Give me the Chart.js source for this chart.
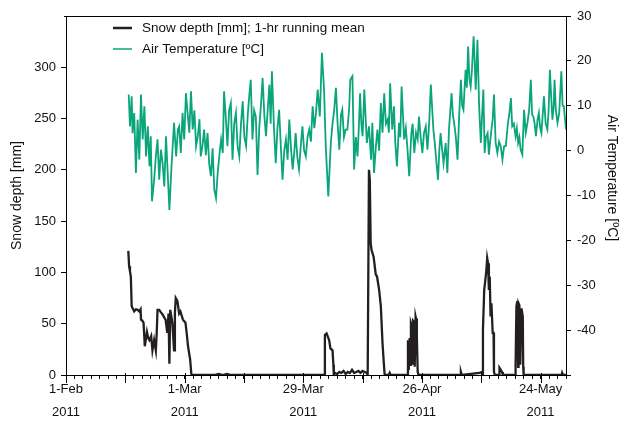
<!DOCTYPE html>
<html>
<head>
<meta charset="utf-8">
<script src="https://cdn.jsdelivr.net/npm/chart.js@4.4.1/dist/chart.umd.min.js"></script>
<style>
  html, body { margin: 0; padding: 0; background: #fff; }
</style>
</head>
<body>
<canvas id="snowChart" width="624" height="421"></canvas>
<script>
// x values are days after 1 Feb 2011
const dateLabels = { 0: ['1-Feb', '2011'], 28: ['1-Mar', '2011'], 56: ['29-Mar', '2011'], 84: ['26-Apr', '2011'], 112: ['24-May', '2011'] };
const majorTickDays = [0, 14, 28, 42, 56, 70, 84, 98, 112];

// Snow depth [mm], 1-hr running mean
const snowDays = [
  14.7, 14.9, 15.1, 15.3, 15.5, 16.1, 16.5, 16.9, 17.3, 17.6, 17.7, 18.0, 18.3, 18.6, 19.1, 19.4, 19.7, 20.1, 20.4, 20.8,
  21.2, 21.4, 21.6, 22.0, 22.4, 22.8, 23.2, 23.5, 23.9, 24.2, 24.4, 24.6, 25.1, 25.5, 25.7, 25.9, 26.3, 26.7, 27.0, 27.6,
  28.2, 28.5, 28.8, 29.3, 29.6, 30, 35, 36, 37, 38, 39, 45, 50, 55, 60, 61.0,
  61.1, 61.5, 62.1, 62.4, 62.9, 63.1, 63.2, 63.5, 64, 64.5, 65, 65.5, 66, 66.5, 67, 67.5, 68, 68.5, 69, 69.5, 70, 70.5, 71, 71.2,
  71.5, 71.7, 71.9, 72.1, 72.6, 73.1, 73.4, 73.9, 74.3, 74.7, 74.9, 75.2, 76.2, 76.4, 76.6,
  80.5, 80.7, 80.8, 80.9, 81.1, 81.3, 81.4, 81.6, 81.8, 81.9, 82.1, 82.3, 82.5, 82.6, 82.8, 83.0, 83.2,
  93.0, 93.2, 93.4, 97.6, 98.1, 98.3, 98.4, 98.7, 98.9, 99.2, 99.4, 99.6, 99.8, 100.0, 100.2, 100.4, 100.7, 100.9, 101.0, 101.2,
  102.2, 102.3, 102.6, 102.9, 103.1, 106.0, 106.1, 106.3, 106.5, 106.7, 106.8, 107.0, 107.2, 107.5, 107.8, 107.9, 108.0,
  117.0, 117.1, 117.3, 118
];
const snowDepth = [
  121, 106, 101, 96, 67, 62, 64, 63.5, 62, 64, 54, 53, 51, 28, 42, 36, 34, 38, 24, 34,
  24, 40, 63.5, 63.5, 61, 59, 56, 54, 41, 60, 11, 63.5, 51, 24, 60, 75, 72, 60, 62, 54,
  51, 40, 28, 15, 0, 0, 0, 1, 0, 1, 0, 0, 0, 0, 0, 0,
  39, 40.5, 34, 26, 24, 10, 0, 2, 1, 3, 2, 4, 1, 3, 2, 5, 2, 3, 4, 2, 4, 3, 2, 0,
  200, 190, 129, 122, 115, 98, 96, 83, 67, 31, 18, 0, 0, 2, 0,
  0, 34, 28, 5, 36, 10, 50, 47, 10, 53, 52, 8, 57, 55, 37, 3, 0,
  0, 3, 0, 2, 3, 0, 44, 83, 90, 102, 114, 109, 83, 96, 57, 70, 41, 41, 3, 0,
  0, 7, 5, 3, 0, 0, 8, 67, 72, 8, 70, 68, 10, 65, 57, 8, 0,
  0, 2, 0, 0
];

// Air temperature [°C]
const tempDays = [
  14.8, 15.1, 15.5, 15.7, 16.1, 16.5, 16.9, 17.3, 17.7, 18.1, 18.5, 18.9, 19.3, 19.7, 20.0, 20.3, 20.8, 21.2, 21.6, 22.0,
  22.4, 22.8, 23.2, 23.6, 24.0, 24.4, 24.9, 25.5, 26.0, 26.4, 26.7, 27.1, 27.5, 27.9, 28.3, 28.7, 29.1, 29.5, 29.9, 30.3,
  30.7, 31.1, 31.5, 31.8, 32.2, 32.6, 33.0, 33.4, 33.8, 34.2, 34.6, 35.0, 35.4, 35.8, 36.2, 36.6, 37.0, 37.3, 37.7, 38.1,
  38.5, 38.9, 39.3, 39.7, 40.1, 40.5, 40.9, 41.3, 41.7, 42.1, 42.5, 42.9, 43.2, 43.6, 44.0, 44.4, 44.8, 45.2, 45.6, 46.0,
  46.4, 46.8, 47.2, 47.6, 48.0, 48.3, 48.6, 49.1, 49.5, 49.9, 50.3, 50.7, 51.1, 51.5, 51.9, 52.3, 52.7, 53.1, 53.5, 53.9,
  54.2, 54.6, 55.0, 55.4, 55.8, 56.2, 56.6, 57.0, 57.4, 57.8, 58.2, 58.6, 59.0, 59.4, 59.9, 60.4, 60.9, 61.3, 61.9, 62.5,
  62.9, 63.3, 63.7, 64.1, 64.5, 64.9, 65.2, 65.6, 66.0, 66.4, 66.8, 67.1, 67.6, 68.0, 68.4, 68.8, 69.1, 69.4, 69.7, 70.0,
  70.4, 71.0, 71.5, 72.0, 72.3, 72.7, 73.1, 73.5, 73.9, 74.3, 74.7, 75.1, 75.5, 75.9, 76.2, 76.5, 77.0, 77.4, 77.7, 78.1,
  78.6, 78.9, 79.2, 79.8, 80.2, 80.6, 81.0, 81.5, 81.8, 82.2, 82.6, 83.0, 83.3, 83.7, 84.1, 84.5, 84.9, 85.3, 85.7, 86.1,
  86.7, 87.0, 87.3, 87.8, 88.1, 88.4, 88.8, 89.1, 89.6, 90.0, 90.4, 91.0, 91.3, 91.6, 92.0, 92.4, 92.8, 93.2, 93.5, 93.8,
  94.3, 94.6, 94.9, 95.2, 95.5, 95.8, 96.2, 96.7, 97.1, 97.5, 97.9, 98.2, 98.5, 98.8, 99.1, 99.5, 99.8, 100.1, 100.4, 100.7,
  101.0, 101.4, 101.8, 102.2, 102.6, 103.0, 103.4, 103.8, 104.3, 104.6, 105.0, 105.3, 105.7, 106.1, 106.4, 106.7, 107.0, 107.3, 107.7, 108.1,
  108.5, 108.9, 109.3, 109.7, 110.0, 110.3, 110.6, 110.9, 111.3, 111.6, 111.9, 112.2, 112.5, 112.8, 113.2, 113.6, 113.9, 114.2, 114.5, 114.8,
  115.1, 115.3, 115.6, 116.0, 116.4, 116.9, 117.2, 117.5, 118.0
];
const tempValues = [
  12.5, 5.4, 12.1, 3.9, 8.4, -5.0, 6.9, -2.0, 12.5, 2.5, 9.9, -1.3, 5.4, -3.5, 3.2, -11.3, -6.5, -1.3, 2.5, -6.5,
  0.2, -2.8, -8.0, 3.2, -5.0, -13.2, -3.5, 6.2, -1.3, 4.7, 5.4, -0.5, 8.4, 2.5, 12.8, 8.4, 4.0, 13.2, 4.7, 9.0,
  1.0, 3.2, 7.0, -1.3, 1.0, 4.7, -1.0, 3.9, -3.0, -5.7, 0.5, -8.7, -10.6, -5.0, -1.0, 2.5, -0.5, 13.2, 7.6, 1.0,
  9.0, 10.6, -2.0, 6.0, 8.4, 1.0, -1.3, 6.0, 11.0, 3.0, 1.0, 8.0, 11.7, 15.8, 2.5, 9.0, 7.6, -5.4, 5.0, 10.0,
  16.2, 8.0, 3.2, 9.0, 14.7, 6.0, 17.7, 4.7, -2.8, 5.0, 9.1, 1.0, -6.5, 0.0, 2.5, -2.0, 6.9, 0.5, -4.2, 0.0,
  3.9, -1.5, -4.2, 1.0, 5.4, 0.0, -1.3, 3.0, 4.7, 2.0, 9.9, 5.0, 8.4, 13.6, 7.6, 21.8, 13.6, 1.0, -10.2, 1.7,
  6.0, 9.1, 14.0, 6.0, 0.2, 8.0, 9.1, 3.0, 4.7, 4.7, 9.0, 15.8, 16.6, -4.2, 3.0, -1.3, 5.0, 12.8, 6.0, 3.2,
  13.6, 1.7, 5.4, -2.0, 6.2, -5.0, 0.5, 4.7, 0.0, 10.6, 4.0, 12.8, 6.0, 6.9, 4.0, 15.0, 4.7, 9.9, 2.0, -3.5,
  6.2, 3.0, 14.3, 2.5, 5.0, 0.2, -5.7, 3.9, 6.0, -0.5, 4.0, 2.5, 7.6, 3.0, -0.5, 4.0, 5.4, 0.2, 6.0, 14.7,
  4.7, 2.0, -1.3, -6.5, 0.0, 3.9, 0.0, -2.8, 1.7, -5.0, 5.0, 12.8, 8.0, 6.2, 3.0, -2.0, 8.0, 15.8, 10.0, 9.1,
  18.0, 14.0, 23.2, 16.0, 14.3, 18.0, 25.5, 13.6, 24.7, 9.9, 1.7, 8.0, 13.6, -0.5, 3.0, 3.9, -0.9, 2.0, 4.7, 7.0,
  12.5, 1.7, -0.5, 2.0, 1.0, -2.0, 1.0, 1.0, 6.2, 8.0, 11.7, 5.4, 6.0, 3.2, 5.0, 1.7, 3.0, 0.2, -0.9, 9.1,
  4.0, 6.2, 9.0, 15.8, 8.0, 7.6, 6.0, 3.2, 7.0, 8.4, 5.0, 3.9, 8.0, 12.1, 6.0, 4.7, 9.0, 18.0, 12.0, 6.9,
  10.0, 15.8, 9.0, 6.2, 8.4, 17.7, 10.0, 9.9, 4.7
];

const snowColor = '#231f20';
const tempColor = '#0aa57a';
const fontFamily = '"Liberation Sans", Arial, sans-serif';

// frame top line, long ticks every two weeks and the legend inside the plot
const extrasPlugin = {
  id: 'extras',
  afterDraw(chart) {
    const { ctx, chartArea: area, scales: { x } } = chart;
    ctx.save();
    ctx.strokeStyle = '#000';
    ctx.lineWidth = 1;
    ctx.beginPath();
    ctx.moveTo(area.left - 2, area.top + 0.5);
    ctx.lineTo(area.right + 2, area.top + 0.5);
    ctx.stroke();

    majorTickDays.forEach(d => {
      const px = Math.round(x.getPixelForValue(d)) + 0.5;
      ctx.beginPath();
      ctx.moveTo(px, area.bottom - 2);
      ctx.lineTo(px, area.bottom + 8);
      ctx.stroke();
    });

    // legend
    const items = [
      { text: chart.data.datasets[0].label, color: snowColor, width: 2.5 },
      { text: chart.data.datasets[1].label, color: tempColor, width: 1.5 }
    ];
    ctx.font = '13.5px ' + fontFamily;
    ctx.textBaseline = 'middle';
    items.forEach((it, i) => {
      const y = area.top + 12 + i * 21;
      ctx.strokeStyle = it.color;
      ctx.lineWidth = it.width;
      ctx.beginPath();
      ctx.moveTo(area.left + 47, y);
      ctx.lineTo(area.left + 66, y);
      ctx.stroke();
      ctx.fillStyle = '#111';
      ctx.fillText(it.text, area.left + 76, y);
    });
    ctx.restore();
  }
};

const ctx = document.getElementById('snowChart').getContext('2d');
new Chart(ctx, {
  type: 'line',
  data: {
    datasets: [{
      label: 'Snow depth [mm]; 1-hr running mean',
      data: snowDays.map((d, i) => ({ x: d, y: snowDepth[i] })),
      borderColor: snowColor,
      borderWidth: 2.3,
      pointRadius: 0,
      tension: 0,
      yAxisID: 'y'
    }, {
      label: 'Air Temperature [\u00baC]',
      data: tempDays.map((d, i) => ({ x: d, y: tempValues[i] })),
      borderColor: tempColor,
      borderWidth: 1.8,
      pointRadius: 0,
      tension: 0,
      yAxisID: 'y2'
    }]
  },
  options: {
    responsive: false,
    animation: false,
    layout: { padding: { top: 16, left: 0, right: 0, bottom: 0 } },
    plugins: {
      legend: { display: false },
      tooltip: { enabled: false }
    },
    scales: {
      x: {
        type: 'linear',
        min: 0,
        max: 118,
        afterFit: (scale) => { scale.height = 46; },
        grid: { drawOnChartArea: false, tickLength: 4, color: '#000' },
        border: { color: '#000', width: 1 },
        ticks: {
          stepSize: 2,
          autoSkip: false,
          maxRotation: 0,
          padding: -1,
          color: '#111',
          font: { family: fontFamily, size: 13, lineHeight: 1.75 },
          callback: (value) => dateLabels[value] || ''
        }
      },
      y: {
        position: 'left',
        min: 0,
        max: 350,
        afterFit: (scale) => { scale.width = 66; },
        afterBuildTicks: (scale) => { scale.ticks = scale.ticks.filter(t => t.value <= 300); },
        grid: { drawOnChartArea: false, tickLength: 5, color: '#000' },
        border: { color: '#000', width: 1 },
        ticks: { stepSize: 50, padding: 5, color: '#111', font: { family: fontFamily, size: 13 } },
        title: {
          display: true,
          text: 'Snow depth [mm]',
          color: '#111',
          font: { family: fontFamily, size: 14 },
          padding: { top: 9, bottom: 0 }
        }
      },
      y2: {
        position: 'right',
        min: -50,
        max: 30,
        afterFit: (scale) => { scale.width = 58; },
        grid: { drawOnChartArea: false, tickLength: 5, color: '#000' },
        border: { color: '#000', width: 1 },
        ticks: {
          stepSize: 10,
          padding: 6,
          color: '#111',
          font: { family: fontFamily, size: 13 },
          callback: (value) => value === -50 ? '' : value
        },
        title: {
          display: true,
          // trailing spaces lift the rotated title a little, as in the original
          text: 'Air Temperature [\u00baC]' + '\u00a0'.repeat(9),
          color: '#111',
          font: { family: fontFamily, size: 14 },
          padding: { top: 4, bottom: 0 }
        }
      }
    }
  },
  plugins: [extrasPlugin]
});
</script>
</body>
</html>
